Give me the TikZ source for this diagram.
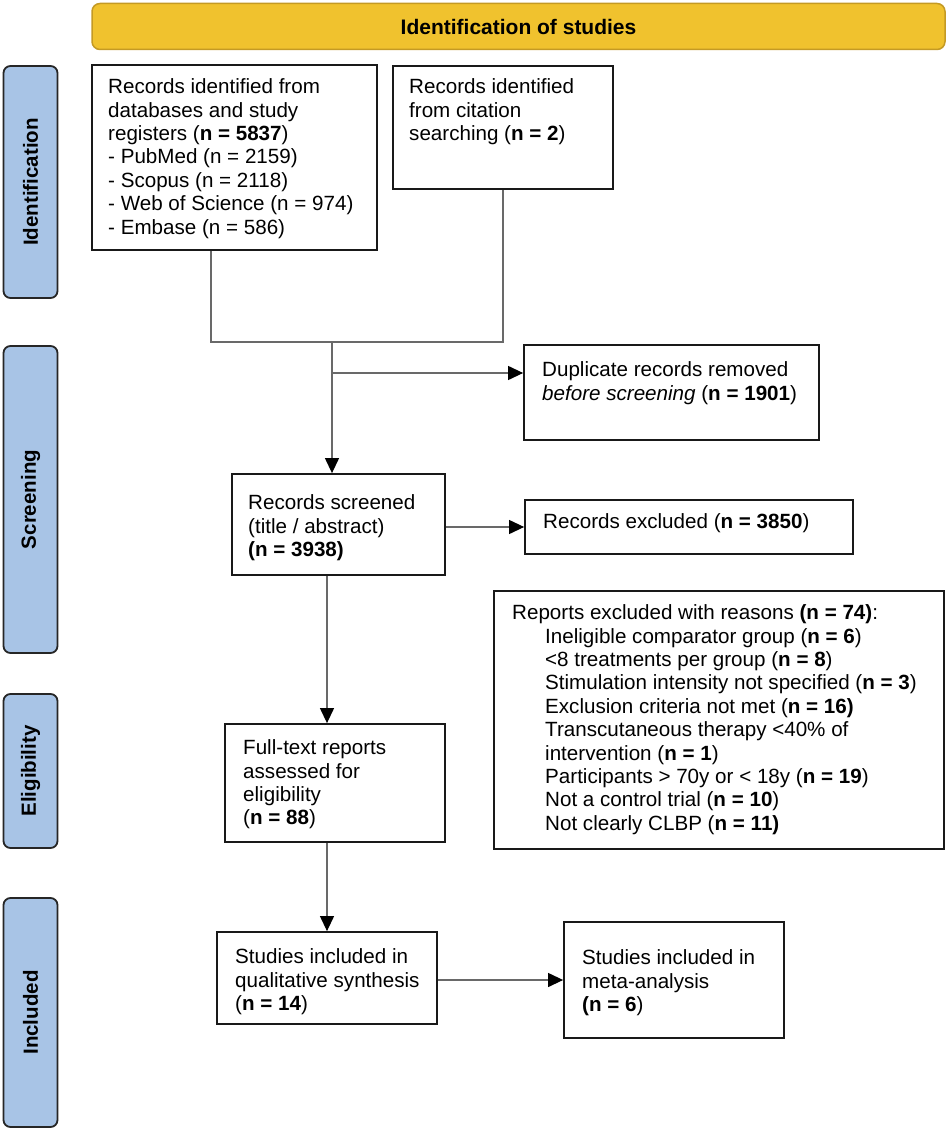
\documentclass[tikz,border=0pt]{standalone}
\usepackage{fontspec}
\setmainfont{Liberation Sans}
\usetikzlibrary{arrows.meta}

\definecolor{bannergold}{RGB}{240,194,46}
\definecolor{bannerrim}{RGB}{196,154,36}
\definecolor{phaseblue}{RGB}{168,196,230}
\definecolor{linkgray}{RGB}{105,105,105}

\newcommand{\reasonpad}{\hspace*{33pt}}

\begin{document}
\begin{tikzpicture}[x=1pt,y=-1pt,
        box/.style={draw=black!90, line width=1.8pt, fill=white, inner sep=0pt},
        txt/.style={anchor=north west, inner sep=0pt, align=left, font=\fontsize{20.6}{23.4}\selectfont},
        phase/.style={draw=black!85, line width=1.8pt, fill=phaseblue, rounded corners=7pt,
                minimum width=54pt, inner sep=0pt},
        link/.style={draw=linkgray, line width=1.2pt},
        arrow/.style={link, -{Triangle[length=15pt,width=14pt,color=black]}}]
        \useasboundingbox (0,0) rectangle (948,1131);

        % banner
        \node[draw=bannerrim, line width=1.5pt, fill=bannergold, rounded corners=8pt,
                minimum width=853pt, minimum height=46pt,
                font=\bfseries\fontsize{21}{24}\selectfont] (banner) at (518.5,26.5) {Identification of studies};

        % phase labels on the left
        \foreach \lab/\ymid/\len in {Identification/182/232, Screening/499.5/307, Eligibility/771/154, Included/1012.5/229} {
                \node[phase, minimum height=\len pt] (\lab) at (30.5,\ymid) {};
                \node[rotate=90, font=\bfseries\fontsize{20.5}{24}\selectfont] (\lab-txt) at (30.5,\ymid) {\lab};
        }

        % boxes
        \node[box, minimum width=285pt, minimum height=185pt] (db) at (234.5,157.5) {};
        \node[txt] (db-txt) at (108,78.5) {Records identified from\\databases and study\\registers (\textbf{n = 5837})\\- PubMed (n = 2159)\\- Scopus (n = 2118)\\- Web of Science (n = 974)\\- Embase (n = 586)};

        \node[box, minimum width=220pt, minimum height=123pt] (cit) at (503,127.5) {};
        \node[txt] (cit-txt) at (409,78.5) {Records identified\\from citation\\searching (\textbf{n = 2})};

        \node[box, minimum width=295pt, minimum height=95pt] (dup) at (671.5,392.5) {};
        \node[txt] (dup-txt) at (542,361.5) {Duplicate records removed\\\textit{before screening} (\textbf{n = 1901})};

        \node[box, minimum width=213pt, minimum height=101pt] (scr) at (338.5,524.5) {};
        \node[txt] (scr-txt) at (248,494.5) {Records screened\\(title / abstract)\\\textbf{(n = 3938)}};

        \node[box, minimum width=328pt, minimum height=54pt] (exc) at (689,527) {};
        \node[txt] (exc-txt) at (543,513.5) {Records excluded (\textbf{n = 3850})};

        \node[box, minimum width=220pt, minimum height=118pt] (full) at (335,783) {};
        \node[txt] (full-txt) at (243,739.5) {Full-text reports\\assessed for\\eligibility\\(\textbf{n = 88})};

        \node[box, minimum width=450pt, minimum height=258pt] (rep) at (719,720) {};
        \node[txt] (rep-txt) at (512,604.5) {Reports excluded with reasons \textbf{(n = 74)}:\\
                \reasonpad Ineligible comparator group (\textbf{n = 6})\\
                \reasonpad <8 treatments per group (\textbf{n = 8})\\
                \reasonpad Stimulation intensity not specified (\textbf{n = 3})\\
                \reasonpad Exclusion criteria not met (\textbf{n = 16)}\\
                \reasonpad Transcutaneous therapy <40\% of\\
                \reasonpad intervention (\textbf{n = 1})\\
                \reasonpad Participants > 70y or < 18y (\textbf{n = 19})\\
                \reasonpad Not a control trial (\textbf{n = 10})\\
                \reasonpad Not clearly CLBP (\textbf{n = 11)}};

        \node[box, minimum width=220pt, minimum height=92pt] (qual) at (327,978) {};
        \node[txt] (qual-txt) at (235,948.5) {Studies included in\\qualitative synthesis\\(\textbf{n = 14})};

        \node[box, minimum width=220pt, minimum height=116pt] (meta) at (674,980) {};
        \node[txt] (meta-txt) at (582,949.5) {Studies included in\\meta-analysis\\\textbf{(n = 6})};

        % connectors
        \coordinate (join) at (332,342);
        \coordinate (split) at (332,373);
        \draw[link] ([xshift=-23.5pt]db.south) |- (join) -| (cit.south);
        \draw[arrow] (join) -- (join |- scr.north);
        \draw[arrow] (split) -- (split -| dup.west);
        \draw[arrow] (exc.west -| scr.east) -- (exc.west);
        \draw[arrow] ([xshift=-11.5pt]scr.south) -- ([xshift=-11.5pt]scr.south |- full.north);
        \draw[arrow] (full.south -| qual.north) -- (qual.north);
        \draw[arrow] (meta.west -| qual.east) -- (meta.west);
    \end{tikzpicture}
\end{document}
